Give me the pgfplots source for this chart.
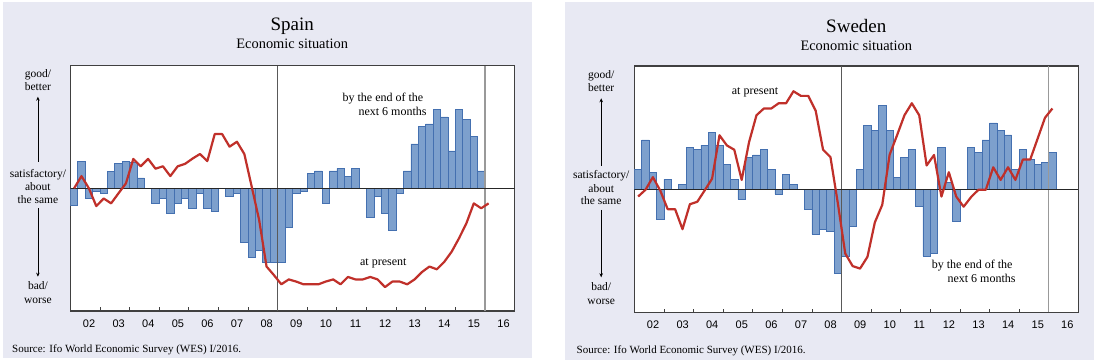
\documentclass[border=0pt]{standalone}
\usepackage{fontspec}
\setmainfont{Liberation Serif}
\newfontfamily\tickfont{Liberation Sans}
\usepackage{pgfplots}
\pgfplotsset{compat=1.18}
\usepackage{pgfplotstable}
\usetikzlibrary{arrows.meta}
\definecolor{panelbg}{RGB}{232,233,243}
\definecolor{barfill}{RGB}{125,160,205}
\definecolor{baredge}{RGB}{68,112,176}
\definecolor{linered}{RGB}{192,48,42}

% x = quarter centre (years after 2002), bar = expectation (deviation from satisfactory), pres = present situation (1-9)
\pgfplotstableread{
x bar pres
0.125 -0.57 5.00
0.375 0.89 5.40
0.625 -0.33 5.00
0.875 -0.09 4.42
1.125 -0.16 4.67
1.375 0.55 4.51
1.625 0.80 4.84
1.875 0.88 5.16
2.125 0.84 5.96
2.375 0.34 5.72
2.625 0 5.96
2.875 -0.49 5.64
3.125 -0.33 5.72
3.375 -0.82 5.40
3.625 -0.49 5.72
3.875 -0.33 5.80
4.125 -0.65 5.97
4.375 -0.16 6.12
4.625 -0.65 5.89
4.875 -0.74 6.77
5.125 0 6.77
5.375 -0.25 6.36
5.625 -0.16 6.52
5.875 -1.77 6.12
6.125 -2.26 5.05
6.375 -2.01 3.97
6.625 -2.40 2.45
6.875 -2.40 2.17
7.125 -2.40 1.87
7.375 -1.28 2.03
7.625 -0.16 1.96
7.875 -0.09 1.87
8.125 0.48 1.87
8.375 0.57 1.87
8.625 -0.49 1.96
8.875 0.57 2.03
9.125 0.65 1.87
9.375 0.40 2.11
9.625 0.65 2.03
9.875 0 2.03
10.125 -0.96 2.11
10.375 -0.25 2.03
10.625 -0.82 1.78
10.875 -1.37 1.96
11.125 -0.16 1.96
11.375 0.57 1.87
11.625 1.45 2.03
11.875 2.01 2.27
12.125 2.10 2.45
12.375 2.57 2.36
12.625 2.33 2.60
12.875 1.22 2.93
13.125 2.57 3.37
13.375 2.24 3.86
13.625 1.68 4.51
13.875 0.57 4.35
14.125 nan 4.51
}\spain

\pgfplotstableread{
x bar pres
0.125 0.65 4.76
0.375 1.60 4.98
0.625 0.55 5.39
0.875 -0.97 4.95
1.125 0.32 4.35
1.375 0 4.35
1.625 0.14 3.70
1.875 1.36 4.51
2.125 1.28 4.59
2.375 1.43 4.96
2.625 1.84 5.34
2.875 1.43 6.75
3.125 0.79 6.42
3.375 0.32 6.28
3.625 -0.33 5.30
3.875 1.03 6.53
4.125 1.11 7.40
4.375 1.28 7.62
4.625 0.63 7.62
4.875 -0.16 7.79
5.125 0.47 7.79
5.375 0.14 8.18
5.625 0 8.03
5.875 -0.65 8.03
6.125 -1.46 7.55
6.375 -1.29 6.28
6.625 -1.38 6.04
6.875 -2.74 4.54
7.125 -2.17 2.91
7.375 -1.22 2.50
7.625 0.63 2.42
7.875 2.08 2.80
8.125 1.91 3.92
8.375 2.72 4.49
8.625 1.91 6.12
8.875 0.39 6.75
9.125 1.03 7.40
9.375 1.28 7.79
9.625 -0.57 7.40
9.875 -2.17 5.77
10.125 -2.09 6.11
10.375 1.36 4.76
10.625 0.23 5.55
10.875 -1.05 4.76
11.125 0 4.43
11.375 1.36 4.74
11.625 1.20 4.98
11.875 1.60 4.98
12.125 2.15 5.71
12.375 1.91 5.30
12.625 1.76 5.71
12.875 0.63 5.30
13.125 1.28 5.96
13.375 0.96 5.96
13.625 0.79 6.64
13.875 0.87 7.32
14.125 1.20 7.62
}\sweden

\pgfplotsset{wesaxis/.style={
  scale only axis, anchor=south west,
  xmin=0, xmax=15, ymin=-4, ymax=4,
  axis background/.style={fill=white},
  axis line style={line width=1.2pt, black!75},
  xtick={1,2,3,4,5,6,7,8,9,10,11,12,13,14},
  xticklabels={},
  ytick=\empty,
  tick align=inside, xtick pos=lower, major tick length=3.5pt,
  tick style={line width=0.8pt, black!75},
  extra x ticks={0.63,1.63,2.63,3.63,4.63,5.63,6.63,7.63,8.63,9.63,10.63,11.63,12.63,13.63,14.63},
  extra x tick labels={02,03,04,05,06,07,08,09,10,11,12,13,14,15,16},
  extra x tick style={major tick length=0pt, tick style={draw=none}},
  xticklabel style={font=\tickfont\fontsize{11}{13}\selectfont, anchor=base, yshift=-16.3pt},
}}

\begin{document}
\begin{tikzpicture}
\path[use as bounding box] (0pt,0pt) rectangle (1096pt,361pt);
\fill[panelbg] (3pt,3pt) rectangle (532pt,359pt);
\fill[panelbg] (565pt,1pt) rectangle (1094pt,359pt);

% ---------------- Spain ----------------
\begin{axis}[wesaxis, at={(70.4pt,50pt)}, width=444.1pt, height=245.3pt]
\addplot[ybar, bar width=0.25, fill=barfill, draw=baredge, line width=0.7pt] table[x=x, y=bar]{\spain};
\draw[black!65, line width=0.7pt] (axis cs:7,-4) -- (axis cs:7,4);
\draw[black!40, line width=1.3pt] (axis cs:14,-4) -- (axis cs:14,4);
\draw[black!85, line width=1.3pt] (axis cs:0,0) -- (axis cs:15,0);
\addplot[linered, line width=2.2pt, mark=none, line join=round] table[x=x, y expr=\thisrow{pres}-5]{\spain};
\end{axis}

% ---------------- Sweden ----------------
\begin{axis}[wesaxis, at={(634.4pt,48.7pt)}, width=443.9pt, height=246.3pt]
\addplot[ybar, bar width=0.25, fill=barfill, draw=baredge, line width=0.7pt] table[x=x, y=bar]{\sweden};
\draw[black!65, line width=0.7pt] (axis cs:7,-4) -- (axis cs:7,4);
\draw[black!40, line width=1.3pt] (axis cs:14,-4) -- (axis cs:14,4);
\draw[black!85, line width=1.3pt] (axis cs:0,0) -- (axis cs:15,0);
\addplot[linered, line width=2.2pt, mark=none, line join=round] table[x=x, y expr=\thisrow{pres}-5]{\sweden};
\end{axis}

\begin{scope}[x=1pt,y=1pt]
% titles
\node[anchor=base] at (292.2,330) {\fontsize{19}{22}\selectfont Spain};
\node[anchor=base] at (292.2,312) {\fontsize{14.4}{17}\selectfont Economic situation};
\node[anchor=base] at (856.3,328.7) {\fontsize{19}{22}\selectfont Sweden};
\node[anchor=base] at (856.3,310) {\fontsize{14.4}{17}\selectfont Economic situation};

% left scale labels
\begin{scope}[every node/.style={anchor=base, inner sep=0pt, font=\fontsize{11.5}{13}\selectfont}]
\node at (37.9,283.7) {good/};
\node at (37.9,270.3) {better};
\node at (37.9,183.3) {satisfactory/};
\node at (37.9,170.3) {about};
\node at (37.9,157.7) {the same};
\node at (37.9,71) {bad/};
\node at (37.9,57.7) {worse};
\node at (601.2,282.3) {good/};
\node at (601.2,269.7) {better};
\node at (601.2,182) {satisfactory/};
\node at (601.2,168.7) {about};
\node at (601.2,156.3) {the same};
\node at (601.2,70) {bad/};
\node at (601.2,56.7) {worse};
\end{scope}
\draw[-{Stealth[length=4pt,width=3.5pt]}, line width=0.8pt] (37.9,199.3) -- (37.9,264.3);
\draw[-{Stealth[length=4pt,width=3.5pt]}, line width=0.8pt] (37.9,152.7) -- (37.9,84.3);
\draw[-{Stealth[length=4pt,width=3.5pt]}, line width=0.8pt] (601.2,195.3) -- (601.2,262.7);
\draw[-{Stealth[length=4pt,width=3.5pt]}, line width=0.8pt] (601.2,151) -- (601.2,83.7);

% annotations
\begin{scope}[every node/.style={inner sep=0pt, font=\fontsize{12}{14}\selectfont}]
\node[anchor=base east] at (423.5,259.7) {by the end of the};
\node[anchor=base east] at (426.7,245.7) {next 6 months};
\node[anchor=base] at (383.3,95.3) {at present};
\node[anchor=base] at (755,266) {at present};
\node[anchor=base east] at (1012.7,92) {by the end of the};
\node[anchor=base east] at (1015.7,78.3) {next 6 months};
\end{scope}

% source
\node[anchor=base west, inner sep=0pt, font=\fontsize{11}{13}\selectfont] at (12,8.7) {Source: Ifo World Economic Survey (WES) I/2016.};
\node[anchor=base west, inner sep=0pt, font=\fontsize{11}{13}\selectfont] at (576.5,7.7) {Source: Ifo World Economic Survey (WES) I/2016.};
\end{scope}
\end{tikzpicture}
\end{document}
